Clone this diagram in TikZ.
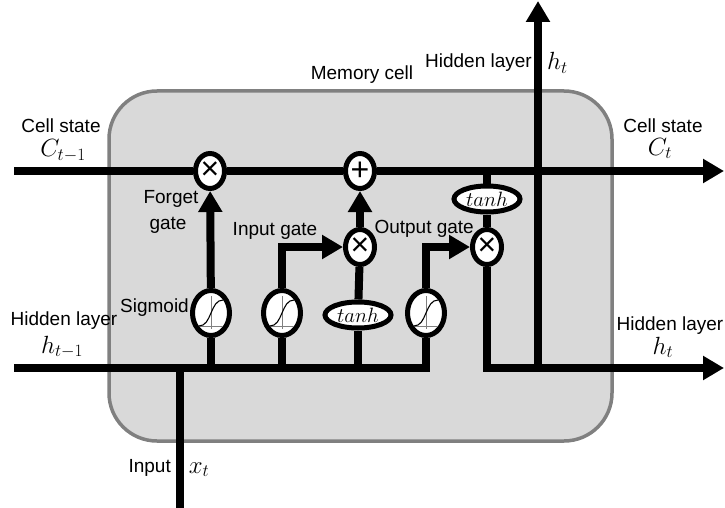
\documentclass[tikz,border=0pt]{standalone}
\usepackage[no-math]{fontspec}
\setmainfont{Liberation Sans}
\usetikzlibrary{arrows.meta,shapes.geometric}
\definecolor{celda}{RGB}{217,217,217}
\definecolor{borde}{RGB}{128,128,128}
\tikzset{
  wire/.style={line width=8pt, black},
  arr/.style={wire, -{Triangle[length=21pt,width=23pt]}},
  oper/.style={draw, ellipse, line width=5pt, fill=white, minimum width=29pt, minimum height=35pt, inner sep=0pt, font=\fontsize{32}{32}\selectfont},
  sigm/.style={draw, ellipse, line width=5pt, fill=white, minimum width=37pt, minimum height=45pt, inner sep=0pt},
  tanhn/.style={draw, ellipse, line width=5pt, fill=white, minimum width=66pt, minimum height=26pt, inner sep=0pt, font=\fontsize{22}{22}\selectfont},
  lbl/.style={font=\fontsize{19}{19}\selectfont, inner sep=0pt, anchor=base},
  mlbl/.style={font=\fontsize{23}{23}\selectfont, inner sep=0pt, anchor=base},
}
\begin{document}
\begin{tikzpicture}[x=1pt, y=-1pt]
  \useasboundingbox (0,0) rectangle (725,508);
  \draw[borde, fill=celda, line width=3.5pt, rounded corners=48pt] (109,91) rectangle (612,441);
  \node[oper] (fmul) at (210,171) {×};
  \node[oper] (plus) at (360,171) {+};
  \node[oper] (imul) at (360,247) {×};
  \node[oper] (omul) at (487,247) {×};
  \node[sigm] (sig1) at (211,313) {};
  \node[sigm] (sig2) at (282,313) {};
  \node[tanhn] (tanh1) at (358,315) {$tanh$};
  \node[sigm] (sig3) at (426,313) {};
  \node[tanhn] (tanh2) at (487,199) {$tanh$};
  \coordinate (cin) at (14,171);
  \coordinate (cout) at (724,171);
  \coordinate (hin) at (14,368);
  \coordinate (hout) at (724,368);
  \coordinate (xin) at (180,508);
  \coordinate (tap) at (487,171);
  \coordinate (hjoin) at (538,368);
  \coordinate (htop) at (538,1);
  \foreach \s in {sig1,sig2,sig3} {
    \begin{scope}[shift={(\s)}]
      \draw[gray, line width=0.6pt] (-12,13) -- (12,13);
      \draw[gray, line width=0.6pt] (0,-17) -- (0,16);
      \draw[line width=1.1pt] (-12,13) .. controls (1,13) and (-1,-13) .. (12,-13);
    \end{scope}
  }
  \draw[wire] (cin) -- (fmul); \draw[wire] (fmul) -- (plus); \draw[arr] (plus) -- (cout);
  \draw[wire] (hin) -| (sig3);
  \draw[wire] (sig1) -- (sig1 |- hin); \draw[wire] (sig2) -- (sig2 |- hin); \draw[wire] (tanh1) -- (tanh1 |- hin);
  \draw[wire] (xin) -- (xin |- hin);
  \draw[arr] (sig1) -- (fmul);
  \draw[arr] (sig2) |- (imul);
  \draw[wire] (tanh1) -- (imul);
  \draw[arr] (imul) -- (plus);
  \draw[arr] (sig3) |- (omul);
  \draw[wire] (tap) -- (tanh2); \draw[wire] (tanh2) -- (omul);
  \draw[arr] (omul) |- (hout);
  \draw[arr] (hjoin) -- (htop);
  \node[lbl] (lcin) at (61,132) {Cell state};
  \node[mlbl] (mcin) at (63,157) {$C_{t-1}$};
  \node[lbl] (lcout) at (663,132) {Cell state};
  \node[mlbl] (mcout) at (660,155) {$C_t$};
  \node[lbl] (lforget) at (171,203) {Forget};
  \node[lbl] (lforget2) at (168,229) {gate};
  \node[lbl] (lmem) at (362,80) {Memory cell};
  \node[lbl, anchor=base east] (lhtop) at (532,68) {Hidden layer};
  \node[mlbl, anchor=base west] (mhtop) at (547,70) {$h_t$};
  \node[lbl] (ligate) at (275,235) {Input gate};
  \node[lbl, anchor=base east] (logate) at (474,233) {Output gate};
  \node[lbl, anchor=base east] (lsig) at (189,312) {Sigmoid};
  \node[lbl] (lhin) at (64,325) {Hidden layer};
  \node[mlbl] (mhin) at (62,353) {$h_{t-1}$};
  \node[lbl] (lhout) at (670,330) {Hidden layer};
  \node[mlbl] (mhout) at (663,354) {$h_t$};
  \node[lbl, anchor=base east] (lxin) at (171,472) {Input};
  \node[mlbl] (mxin) at (199,473) {$x_t$};
\end{tikzpicture}
\end{document}
